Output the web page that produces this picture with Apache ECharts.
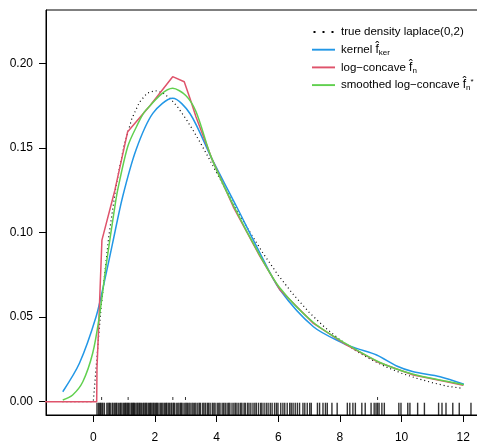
<!DOCTYPE html>
<html>
<head>
<meta charset="utf-8">
<script src="https://cdn.jsdelivr.net/npm/echarts@6/dist/echarts.min.js"></script>
<style>
    html, body {
        margin: 0;
        background: #fff;
    }
    #chart {
        width: 477px;
        height: 446px;
    }
</style>
</head>
<body>
<div id="chart"></div>
<script>
    // true density (dotted)
    var trueX = [-1, 0, 0.25, 0.5, 0.75, 1, 1.25, 1.5, 1.75, 2, 2.25, 2.5, 2.75, 3, 3.25, 3.5, 3.75, 4,
        4.5, 5, 5.5, 6, 6.5, 7, 7.5, 8, 8.5, 9, 9.5, 10, 10.5, 11, 11.5, 12];
    var trueY = [0, 0, 0.0552, 0.0974, 0.1289, 0.1516, 0.1673, 0.1771, 0.1824, 0.1839, 0.1826, 0.1791, 0.1738, 0.1673, 0.1600, 0.1521, 0.1438, 0.1353,
        0.1186, 0.1026, 0.0879, 0.0747, 0.0631, 0.0528, 0.0441, 0.0366, 0.0303, 0.0250, 0.0205, 0.0168, 0.0138, 0.0112, 0.0091, 0.0078];

    // kernel estimate
    var kernelX = [-0.99, -0.45, 0.09, 0.36, 0.63, 0.95, 1.385, 1.93, 2.575, 3.14, 3.84, 4.65, 5.41, 6.06, 7.14, 8.11, 8.54, 9.19, 9.84, 10.38, 11.25, 12.02];
    var kernelY = [0.0059, 0.0227, 0.0502, 0.071, 0.094, 0.121, 0.1488, 0.1704, 0.1793, 0.1702, 0.1438, 0.1152, 0.0877, 0.066, 0.0443, 0.0345, 0.0315, 0.0276, 0.0211, 0.0177, 0.0148, 0.0103];

    // log-concave MLE
    var logconX = [-1.6, 0.11, 0.12, 0.16, 0.28, 0.7, 1.115, 1.85, 2.575, 2.95, 3.14, 3.33, 3.84, 4.54, 5.41, 6.06, 7.14, 8.22, 9.22, 10.38, 11.46, 12.0];
    var logconY = [0, 0, 0.02, 0.038, 0.0955, 0.125, 0.1596, 0.1752, 0.1921, 0.1891, 0.179, 0.1684, 0.1438, 0.1152, 0.0857, 0.066, 0.0463, 0.0335, 0.0235, 0.0158, 0.0118, 0.0097];

    // smoothed log-concave
    var smoothX = [-0.99, -0.67, -0.34, -0.02, 0.195, 0.41, 0.68, 0.79, 1.115, 1.4, 1.71, 2.575, 3.0, 3.33, 3.84, 4.54, 5.41, 6.06, 7.14, 8.22, 9.30, 10.38, 11.46, 12.02];
    var smoothY = [0.001, 0.004, 0.0118, 0.0286, 0.0502, 0.0798, 0.113, 0.125, 0.1507, 0.1625, 0.1724, 0.1852, 0.181, 0.1715, 0.1438, 0.1162, 0.0862, 0.067, 0.0468, 0.034, 0.0232, 0.0162, 0.0121, 0.0100];

    // observations (rug) and knots of the log-concave fit
    var rugX = [0.12, 0.17, 0.21, 0.24, 0.28, 0.31, 0.36, 0.44, 0.48, 0.52, 0.55, 0.61, 0.64, 0.69, 0.73, 0.76, 0.81, 0.86, 0.89, 0.93,
        0.98, 1.02, 1.05, 1.09, 1.12, 1.15, 1.19, 1.24, 1.27, 1.31, 1.33, 1.38, 1.42, 1.45, 1.49, 1.52, 1.56, 1.61, 1.64, 1.68,
        1.71, 1.74, 1.79, 1.83, 1.86, 1.9, 1.94, 1.97, 2.01, 2.05, 2.08,
        2.13, 2.18, 2.22, 2.26, 2.31, 2.35, 2.38, 2.43, 2.47, 2.52, 2.55, 2.6, 2.63, 2.69, 2.74, 2.78, 2.83, 2.86, 2.91, 2.97,
        3.01, 3.05, 3.1, 3.14, 3.2, 3.24, 3.29, 3.33, 3.39, 3.44, 3.48, 3.55, 3.59, 3.64, 3.7, 3.74, 3.79, 3.86, 3.91, 3.95,
        4.02, 4.07, 4.11, 4.18, 4.23, 4.28, 4.34, 4.39, 4.43, 4.5, 4.56, 4.61, 4.66, 4.72,
        4.78, 4.82, 4.89, 4.93, 5.00, 5.05, 5.11, 5.18, 5.24, 5.29, 5.36, 5.43, 5.47, 5.54, 5.61, 5.67, 5.74, 5.80, 5.88, 5.94,
        5.99, 6.08, 6.15, 6.21, 6.29, 6.37, 6.42, 6.48, 6.55, 6.62, 6.69, 6.80, 6.86, 6.94, 7.02, 7.07, 7.27, 7.34, 7.45, 7.53,
        7.59, 7.74, 7.91, 8.24, 8.32, 8.42, 8.50,
        8.71, 8.82, 9.01, 9.11, 9.17, 9.22, 9.27, 9.36, 9.44, 9.91, 9.98, 10.20, 10.27, 10.52, 10.74, 11.20, 11.31, 11.44, 11.66, 11.87, 12.25];
    var knotX = [0.27, 1.13, 2.58, 2.99, 9.22];

    var xTicks = [0, 2, 4, 6, 8, 10, 12];
    var yTicks = [0, 0.05, 0.10, 0.15, 0.20];

    var legendNames = {
        'true': 'true density laplace(0,2)',
        'kernel': 'kernel {f|f\u0302}{sub|ker}',
        'logcon': 'log\u2212concave {f|f\u0302}{sub|n}',
        'smooth': 'smoothed log\u2212concave {f|f\u0302}{sub|n}{sup|*}'
    };

    var font = '"Liberation Sans", Arial, Helvetica, sans-serif';
    var lineIcon = 'path://M0,0H24V2H0Z';
    var dotIcon = 'path://M0,0H2V2H0Z M9,0H11V2H9Z M18,0H20V2H18Z';

    function pairs(xs, ys) {
        var out = [];
        for (var i = 0; i < xs.length; i++) {
            out.push([xs[i], ys[i]]);
        }
        return out;
    }

    var rugData = [];
    for (var i = 0; i < rugX.length; i++) {
        rugData.push([rugX[i], -0.00423]);
    }
    var knotData = [];
    for (var k = 0; k < knotX.length; k++) {
        knotData.push([knotX[k], 0.0019]);
    }

    var chart = echarts.init(document.getElementById('chart'));
    chart.setOption({
        animation: false,
        backgroundColor: '#fff',
        grid: {
            left: 46,
            right: -1,
            top: 10,
            bottom: 31,
            show: true,
            borderColor: '#000',
            borderWidth: 1,
            containLabel: false,
            outerBoundsMode: 'none'
        },
        legend: {
            orient: 'vertical',
            left: 307,
            top: 20,
            itemWidth: 23,
            itemHeight: 2,
            itemGap: 3.7,
            selectedMode: false,
            data: [
                {name: 'true', icon: dotIcon, itemStyle: {color: '#000'}},
                {name: 'kernel', icon: lineIcon},
                {name: 'logcon', icon: lineIcon},
                {name: 'smooth', icon: lineIcon}
            ],
            formatter: function (name) {
                return legendNames[name];
            },
            textStyle: {
                fontFamily: font,
                fontSize: 11.5,
                color: '#000',
                lineHeight: 14,
                padding: [0, 0, 0, 1],
                rich: {
                    f: {fontFamily: font, fontSize: 12, color: '#000', lineHeight: 14},
                    sub: {fontFamily: font, fontSize: 8, color: '#000', lineHeight: 4, verticalAlign: 'bottom'},
                    sup: {fontFamily: font, fontSize: 8, color: '#000', lineHeight: 8, verticalAlign: 'top'}
                }
            }
        },
        xAxis: {
            type: 'value',
            min: -1.534,
            max: 12.478,
            splitLine: {show: false},
            axisLine: {show: true, onZero: false, lineStyle: {color: '#000', width: 1}},
            axisTick: {show: true, inside: false, length: 7, lineStyle: {color: '#000'}, customValues: xTicks},
            axisLabel: {
                color: '#000',
                fontFamily: font,
                fontSize: 12,
                margin: 17,
                customValues: xTicks
            }
        },
        yAxis: {
            type: 'value',
            min: -0.00786,
            max: 0.2315,
            splitLine: {show: false},
            axisLine: {show: true, onZero: false, lineStyle: {color: '#000', width: 1}},
            axisTick: {show: true, inside: false, length: 7, lineStyle: {color: '#000'}, customValues: yTicks},
            axisLabel: {
                color: '#000',
                fontFamily: font,
                fontSize: 12,
                margin: 13,
                customValues: yTicks,
                formatter: function (v) {
                    return v.toFixed(2);
                }
            }
        },
        series: [
            {
                name: 'rug',
                type: 'scatter',
                data: rugData,
                symbol: 'rect',
                symbolSize: [1.4, 12.3],
                itemStyle: {color: '#000'},
                silent: true,
                z: 1
            },
            {
                name: 'knots',
                type: 'scatter',
                data: knotData,
                symbol: 'rect',
                symbolSize: [1, 3],
                itemStyle: {color: '#000'},
                silent: true,
                z: 1
            },
            {
                name: 'true',
                type: 'line',
                data: pairs(trueX, trueY),
                symbol: 'none',
                itemStyle: {color: '#000'},
                lineStyle: {color: '#000', width: 1.2, type: [1, 3]},
                z: 2
            },
            {
                name: 'kernel',
                type: 'line',
                data: pairs(kernelX, kernelY),
                symbol: 'none',
                smooth: 0.3,
                itemStyle: {color: '#2297E6'},
                lineStyle: {color: '#2297E6', width: 1.5},
                z: 3
            },
            {
                name: 'logcon',
                type: 'line',
                data: pairs(logconX, logconY),
                symbol: 'none',
                itemStyle: {color: '#DF536B'},
                lineStyle: {color: '#DF536B', width: 1.5},
                z: 4
            },
            {
                name: 'smooth',
                type: 'line',
                data: pairs(smoothX, smoothY),
                symbol: 'none',
                smooth: 0.3,
                itemStyle: {color: '#61D04F'},
                lineStyle: {color: '#61D04F', width: 1.5},
                z: 5
            }
        ]
    });
</script>
</body>
</html>
